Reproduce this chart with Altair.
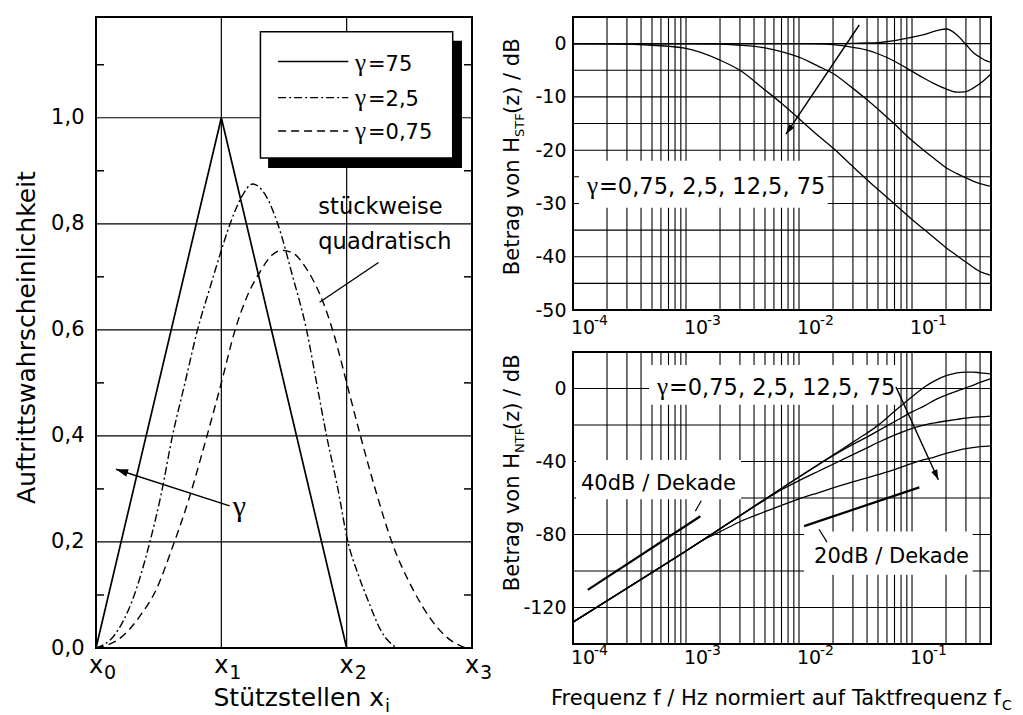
import altair as alt
import pandas as pd

SANS = "DejaVu Sans"
SERIF = "Liberation Serif"
INK = "black"

# ---------------- left panel values ----------------
tri_x = [0.0, 1.0, 2.0]
tri_y = [0.0, 1.0, 0.0]
dd_x = [0.0, 0.15, 0.29, 0.43, 0.52, 0.61, 0.71, 0.81, 0.91, 1.0, 1.07, 1.16, 1.25,
        1.35, 1.45, 1.57, 1.68, 1.76, 1.84, 1.93, 2.01, 2.09, 2.17, 2.28, 2.4]
dd_y = [0.0, 0.025, 0.09, 0.2, 0.29, 0.4, 0.5, 0.6, 0.68, 0.75, 0.8, 0.85, 0.875,
        0.855, 0.8, 0.7, 0.6, 0.5, 0.4, 0.3, 0.2, 0.14, 0.09, 0.03, 0.0]
da_x = [0.0, 0.2, 0.35, 0.48, 0.61, 0.74, 0.85, 1.0, 1.11, 1.2, 1.31, 1.4, 1.48,
        1.57, 1.68, 1.79, 1.9, 2.0, 2.11, 2.24, 2.36, 2.53, 2.67, 2.8, 2.95]
da_y = [0.0, 0.02, 0.06, 0.11, 0.19, 0.28, 0.37, 0.5, 0.6, 0.66, 0.71, 0.74, 0.75,
        0.745, 0.715, 0.665, 0.59, 0.5, 0.4, 0.29, 0.2, 0.11, 0.055, 0.02, 0.0]
stuetz_pos = [0, 1, 2, 3]
stuetz_sub = ["0", "1", "2", "3"]
prob_ticks = [0.0, 0.2, 0.4, 0.6, 0.8, 1.0]
prob_grid = [0.2, 0.4, 0.6, 0.8, 1.0]
prob_minor = [0.1, 0.3, 0.5, 0.7, 0.9, 1.1]
legend_gamma = ["=75", "=2,5", "=0,75"]

# ---------------- right panels values ----------------
stf_a_f = [1e-4, 1e-2, 2e-2, 3e-2, 4e-2, 5e-2, 7e-2, 0.1, 0.13, 0.16, 0.18, 0.2, 0.22, 0.25, 0.3, 0.35, 0.4, 0.45, 0.5]
stf_a_db = [0, 0, 0, 0.05, 0.12, 0.2, 0.55, 1.2, 1.75, 2.35, 2.65, 2.75, 2.5, 1.6, -0.15, -1.7, -2.55, -3.2, -3.5]
stf_b_f = [1e-4, 1e-2, 1.5e-2, 2e-2, 3e-2, 4e-2, 5e-2, 7e-2, 0.1, 0.13, 0.16, 0.2, 0.25, 0.3, 0.35, 0.4, 0.45, 0.5]
stf_b_db = [0, 0, -0.05, -0.2, -0.7, -1.2, -1.9, -3.3, -5.2, -6.6, -7.6, -8.5, -9.1, -9.0, -8.3, -7.5, -6.6, -5.7]
stf_c_f = [1e-4, 1e-3, 2e-3, 3e-3, 5e-3, 7e-3, 1e-2, 1.5e-2, 2e-2, 3e-2, 4e-2, 5e-2, 7e-2, 0.1, 0.13, 0.16, 0.2, 0.25, 0.3, 0.4, 0.5]
stf_c_db = [0, 0, -0.1, -0.3, -0.8, -1.5, -2.55, -4.3, -5.6, -8.4, -10.55, -12.3, -15.1, -18.2, -20.2, -21.7, -23.3, -24.4, -25.2, -26.3, -26.8]
stf_d_f = [1e-4, 2e-4, 5e-4, 1e-3, 2e-3, 3e-3, 5e-3, 7e-3, 1e-2, 1.5e-2, 2e-2, 3e-2, 5e-2, 7e-2, 0.1, 0.13, 0.16, 0.2, 0.25, 0.3, 0.4, 0.5]
stf_d_db = [0, -0.05, -0.3, -0.9, -3.1, -5.0, -8.7, -11.2, -14.1, -17.4, -19.6, -23.1, -27.4, -30.1, -33.0, -35.0, -36.6, -38.3, -39.8, -41.0, -42.8, -43.5]

ntf_a_f = [1e-4, 1e-3, 1e-2, 2e-2, 3e-2, 4e-2, 5e-2, 7e-2, 0.1, 0.13, 0.16, 0.2, 0.25, 0.3, 0.35, 0.4, 0.45, 0.5]
ntf_a_db = [-128, -89, -48.5, -36.5, -29.4, -24.4, -20.2, -12.5, -4.5, 1.0, 4.3, 7.0, 8.6, 9.0, 9.0, 8.6, 8.3, 8.0]
ntf_b_f = [1e-4, 1e-3, 1e-2, 1.5e-2, 2e-2, 3e-2, 4e-2, 5e-2, 7e-2, 0.1, 0.13, 0.16, 0.2, 0.25, 0.3, 0.35, 0.4, 0.45, 0.5]
ntf_b_db = [-128, -89, -48.5, -41.5, -36.8, -30.6, -26.6, -23.2, -18.2, -12.8, -9.4, -6.2, -3.6, -1.4, 0.4, 1.9, 3.3, 4.4, 5.4]
ntf_c_f = [1e-4, 1e-3, 5e-3, 7e-3, 1e-2, 1.5e-2, 2e-2, 3e-2, 4e-2, 5e-2, 7e-2, 0.1, 0.13, 0.16, 0.2, 0.25, 0.3, 0.4, 0.5]
ntf_c_db = [-128, -89, -61, -55.5, -50.5, -45.2, -41.5, -36.2, -32.5, -29.6, -25.6, -21.8, -19.9, -18.8, -17.8, -16.9, -16.2, -15.5, -15.1]
ntf_d_f = [1e-4, 1e-3, 1.5e-3, 2e-3, 3e-3, 5e-3, 7e-3, 1e-2, 1.5e-2, 2e-2, 3e-2, 4e-2, 5e-2, 7e-2, 0.1, 0.13, 0.16, 0.2, 0.25, 0.3, 0.4, 0.5]
ntf_d_db = [-128, -89, -82.2, -78.5, -73, -67.5, -64, -60.5, -57, -54.5, -51.2, -49, -47.2, -44.4, -41.0, -38.9, -37.4, -35.5, -34.0, -33.0, -31.9, -31.4]

slope40_f = [1.35e-4, 1.34e-3]
slope40_db = [-110.3, -70.0]
slope20_f = [0.0111, 0.116]
slope20_db = [-75.4, -54.2]

decades = [1e-4, 1e-3, 1e-2, 1e-1]
decade_exp = ["-4", "-3", "-2", "-1"]
stf_ticks = [0, -10, -20, -30, -40, -50]
stf_grid = [0, -5, -10, -15, -20, -25, -30, -35, -40, -45]
ntf_ticks = [0, -40, -80, -120]
ntf_grid = [0, -20, -40, -60, -80, -100, -120]
gamma_text = "=0,75, 2,5, 12,5, 75"

log_grid = [m * 10.0 ** e for e in (-4, -3, -2, -1) for m in range(1, 10) if m * 10.0 ** e < 0.5]

ARROW = "M0,0L-0.32,1L0.32,1Z"
ONE = pd.DataFrame({"k": [0]})

# =========================== LEFT PANEL ===========================
LW, LH = 376, 631
lxs = alt.Scale(domain=[0, 3], nice=False, zero=False)
lys = alt.Scale(domain=[0, 1.19], nice=False, zero=False)
L_YAXIS = alt.Axis(
    values=prob_ticks, grid=False, ticks=False, domain=False,
    labelExpr="replace(format(datum.value, '.1f'), '.', ',')",
    labelFont=SANS, labelFontSize=21, labelColor=INK, labelPadding=12,
    title="Auftrittswahrscheinlichkeit", titleFont=SANS, titleFontSize=25,
    titleFontWeight="normal", titleColor=INK, titleAngle=270, titleX=-62, titleY=320,
    titleBaseline="alphabetic", titleAlign="center")


def lx(f="x"):
    return alt.X(f"{f}:Q", scale=lxs, axis=None)


def ly(f="y"):
    return alt.Y(f"{f}:Q", scale=lys, axis=L_YAXIS)


lgrid_h = alt.Chart(pd.DataFrame({"y": prob_grid})).mark_rule(color=INK, strokeWidth=1.2).encode(y=ly())
lgrid_v = alt.Chart(pd.DataFrame({"x": [1, 2]})).mark_rule(color=INK, strokeWidth=1.2).encode(x=lx())
lminor_l = alt.Chart(pd.DataFrame({"y": prob_minor})).mark_rule(color=INK, strokeWidth=1.5).encode(
    x=alt.value(0), x2=alt.value(8), y=ly())
lminor_r = alt.Chart(pd.DataFrame({"y": prob_minor})).mark_rule(color=INK, strokeWidth=1.5).encode(
    x=alt.value(LW - 8), x2=alt.value(LW), y=ly())

c_tri = alt.Chart(pd.DataFrame({"x": tri_x, "y": tri_y})).mark_line(color=INK, strokeWidth=1.7).encode(x=lx(), y=ly())
c_dd = alt.Chart(pd.DataFrame({"x": dd_x, "y": dd_y})).mark_line(
    color=INK, strokeWidth=1.4, strokeDash=[8, 3, 2, 3], interpolate="monotone").encode(x=lx(), y=ly())
c_da = alt.Chart(pd.DataFrame({"x": da_x, "y": da_y})).mark_line(
    color=INK, strokeWidth=1.4, strokeDash=[8, 5], interpolate="monotone").encode(x=lx(), y=ly())

# legend box with shadow
leg_shadow = alt.Chart(pd.DataFrame({"x": [1.373], "x2": [2.92], "y": [0.905], "y2": [1.145]})).mark_rect(
    color=INK).encode(x=lx(), x2="x2", y=ly(), y2="y2")
leg_box = alt.Chart(pd.DataFrame({"x": [1.312], "x2": [2.846], "y": [0.924], "y2": [1.162]})).mark_rect(
    fill="white", stroke=INK, strokeWidth=1.5).encode(x=lx(), x2="x2", y=ly(), y2="y2")
leg_l1 = alt.Chart(pd.DataFrame({"x": [1.453], "x2": [2.013], "y": [1.106]})).mark_rule(
    color=INK, strokeWidth=1.6).encode(x=lx(), x2="x2", y=ly())
leg_l2 = alt.Chart(pd.DataFrame({"x": [1.453], "x2": [2.013], "y": [1.038]})).mark_rule(
    color=INK, strokeWidth=1.4, strokeDash=[8, 3, 2, 3]).encode(x=lx(), x2="x2", y=ly())
leg_l3 = alt.Chart(pd.DataFrame({"x": [1.453], "x2": [2.013], "y": [0.975]})).mark_rule(
    color=INK, strokeWidth=1.4, strokeDash=[8, 5]).encode(x=lx(), x2="x2", y=ly())
leg_df = pd.DataFrame({"x": [2.066] * 3, "y": [1.089, 1.023, 0.960], "t": legend_gamma})
leg_g = alt.Chart(leg_df).mark_text(text="γ", font=SERIF, fontSize=25, align="left", baseline="alphabetic",
                                    color=INK).encode(x=lx(), y=ly())
leg_t = alt.Chart(leg_df).mark_text(font=SANS, fontSize=21, align="left", baseline="alphabetic", dx=13,
                                    color=INK).encode(x=lx(), y=ly(), text="t:N")

# annotations
ann_sq = alt.Chart(pd.DataFrame({"x": [1.774, 1.774], "y": [0.818, 0.752], "t": ["stückweise", "quadratisch"]})).mark_text(
    font=SANS, fontSize=22.5, align="left", baseline="alphabetic", color=INK).encode(x=lx(), y=ly(), text="t:N")
lead_sq = alt.Chart(pd.DataFrame({"x": [2.254], "x2": [1.784], "y": [0.727], "y2": [0.652]})).mark_rule(
    color=INK, strokeWidth=1.4).encode(x=lx(), x2="x2", y=ly(), y2="y2")
arr_l = alt.Chart(pd.DataFrame({"x": [1.066], "x2": [0.16], "y": [0.268], "y2": [0.337]})).mark_rule(
    color=INK, strokeWidth=1.5).encode(x=lx(), x2="x2", y=ly(), y2="y2")
arr_lh = alt.Chart(pd.DataFrame({"x": [0.16], "y": [0.337]})).mark_point(
    shape=ARROW, size=576, filled=True, color=INK, opacity=1, angle=288).encode(x=lx(), y=ly())
gam_l = alt.Chart(pd.DataFrame({"x": [1.144], "y": [0.265]})).mark_text(
    text="γ", font=SERIF, fontSize=30, align="center", baseline="middle", color=INK).encode(x=lx(), y=ly())

# x tick labels x_i and axis title
xl_df = pd.DataFrame({"x": stuetz_pos, "s": stuetz_sub})
xl_main = alt.Chart(xl_df).mark_text(text="x", font=SANS, fontSize=24, align="center", baseline="alphabetic",
                                     color=INK).encode(x=lx(), y=alt.value(656))
xl_sub = alt.Chart(xl_df).mark_text(font=SANS, fontSize=19, align="left", baseline="alphabetic", dx=8,
                                    color=INK).encode(x=lx(), y=alt.value(662), text="s:N")
xt_main = alt.Chart(ONE).mark_text(text="Stützstellen x", font=SANS, fontSize=25, align="right",
                                   baseline="alphabetic", color=INK).encode(x=alt.value(288), y=alt.value(689))
xt_sub = alt.Chart(ONE).mark_text(text="i", font=SANS, fontSize=18, align="left",
                                  baseline="alphabetic", color=INK).encode(x=alt.value(289), y=alt.value(695))

left = alt.layer(
    lgrid_h, lgrid_v, lminor_l, lminor_r,
    c_tri, c_dd, c_da,
    lead_sq, arr_l, arr_lh, gam_l, ann_sq,
    leg_shadow, leg_box, leg_l1, leg_l2, leg_l3, leg_g, leg_t,
    xl_main, xl_sub, xt_main, xt_sub,
).properties(width=LW, height=LH)

# =========================== RIGHT PANELS ===========================
RW, RH1, RH2 = 418, 293, 292
rxs = alt.Scale(type="log", domain=[1e-4, 0.5], nice=False)


def rx(f="f"):
    return alt.X(f"{f}:Q", scale=rxs, axis=None)


def curves_df(pairs):
    rows = []
    for name, fs, dbs in pairs:
        for f, d in zip(fs, dbs):
            rows.append({"f": f, "db": d, "c": name})
    return pd.DataFrame(rows)


def make_ry(ys, ticks):
    ax = alt.Axis(values=ticks, grid=False, ticks=False, domain=False,
                  labelExpr="'' + datum.value", labelFont=SANS, labelFontSize=19, labelColor=INK,
                  labelPadding=7, title=None)

    def ry(f="db"):
        return alt.Y(f"{f}:Q", scale=ys, axis=ax)
    return ry


def panel(ry, grid, curves, sub, title_p, label_y):
    gh = alt.Chart(pd.DataFrame({"db": grid})).mark_rule(color=INK, strokeWidth=1.1).encode(y=ry())
    gv = alt.Chart(pd.DataFrame({"f": log_grid})).mark_rule(color=INK, strokeWidth=1.1).encode(x=rx())
    lines = alt.Chart(curves).mark_line(color=INK, strokeWidth=1.3, interpolate="monotone").encode(
        x=rx(), y=ry(), detail="c:N")
    dec = pd.DataFrame({"f": decades, "e": decade_exp})
    lab10 = alt.Chart(dec).mark_text(text="10", font=SANS, fontSize=19, align="left", baseline="alphabetic",
                                     dx=-2, color=INK).encode(x=rx(), y=alt.value(label_y))
    labexp = alt.Chart(dec).mark_text(font=SANS, fontSize=14, align="left", baseline="alphabetic",
                                      dx=21, color=INK).encode(x=rx(), y=alt.value(label_y - 9), text="e:N")
    t1 = alt.Chart(ONE).mark_text(text="Betrag von H", font=SANS, fontSize=21, angle=270, align="right",
                                  baseline="alphabetic", color=INK).encode(x=alt.value(-54), y=alt.value(title_p))
    t2 = alt.Chart(ONE).mark_text(text=sub, font=SANS, fontSize=13, angle=270, align="left",
                                  baseline="alphabetic", color=INK).encode(x=alt.value(-49), y=alt.value(title_p))
    t3 = alt.Chart(ONE).mark_text(text="(z) / dB", font=SANS, fontSize=21, angle=270, align="left",
                                  baseline="alphabetic", color=INK).encode(x=alt.value(-54), y=alt.value(title_p - 23))
    return [gh, gv, lines], [lab10, labexp, t1, t2, t3]


# ---- top: STF ----
ys1 = alt.Scale(domain=[-50, 5], nice=False, zero=False)
ry1 = make_ry(ys1, stf_ticks)
stf = curves_df([("a", stf_a_f, stf_a_db), ("b", stf_b_f, stf_b_db),
                 ("c", stf_c_f, stf_c_db), ("d", stf_d_f, stf_d_db)])
top_base, top_text = panel(ry1, stf_grid, stf, "STF", 120, 317)
top_box = alt.Chart(pd.DataFrame({"f": [1.13e-4], "f2": [0.01795], "db": [-30.8], "db2": [-22.0]})).mark_rect(
    fill="white").encode(x=rx(), x2="f2", y=ry1(), y2="db2")
top_g = alt.Chart(pd.DataFrame({"f": [1.33e-4], "db": [-28.25]})).mark_text(
    text="γ", font=SERIF, fontSize=25, align="left", baseline="alphabetic", color=INK).encode(x=rx(), y=ry1())
top_t = alt.Chart(pd.DataFrame({"f": [1.33e-4], "db": [-28.25]})).mark_text(
    text=gamma_text, font=SANS, fontSize=22.5, align="left", baseline="alphabetic", dx=12, color=INK).encode(x=rx(), y=ry1())
top_arr = alt.Chart(pd.DataFrame({"f": [0.0341], "f2": [0.00767], "db": [3.5], "db2": [-17.0]})).mark_rule(
    color=INK, strokeWidth=1.4).encode(x=rx(), x2="f2", y=ry1(), y2="db2")
top_head = alt.Chart(pd.DataFrame({"f": [0.00767], "db": [-17.0]})).mark_point(
    shape=ARROW, size=400, filled=True, color=INK, opacity=1, angle=214).encode(x=rx(), y=ry1())
top = alt.layer(*top_base, top_box, top_g, top_t, top_arr, top_head, *top_text).properties(
    width=RW, height=RH1)

# ---- bottom: NTF ----
ys2 = alt.Scale(domain=[-140, 20], nice=False, zero=False)
ry2 = make_ry(ys2, ntf_ticks)
ntf = curves_df([("a", ntf_a_f, ntf_a_db), ("b", ntf_b_f, ntf_b_db),
                 ("c", ntf_c_f, ntf_c_db), ("d", ntf_d_f, ntf_d_db)])
bot_base, bot_text = panel(ry2, ntf_grid, ntf, "NTF", 101, 312)
s40 = alt.Chart(pd.DataFrame({"f": slope40_f, "db": slope40_db})).mark_line(color=INK, strokeWidth=2.2).encode(
    x=rx(), y=ry2())
s20 = alt.Chart(pd.DataFrame({"f": slope20_f, "db": slope20_db})).mark_line(color=INK, strokeWidth=2.2).encode(
    x=rx(), y=ry2())
boxes = alt.Chart(pd.DataFrame({
    "f": [4.71e-4, 1.064e-4, 0.01107], "f2": [0.0746, 3.07e-3, 0.344],
    "db": [-8.9, -60.7, -102.0], "db2": [12.9, -39.2, -78.3]})).mark_rect(fill="white").encode(
    x=rx(), x2="f2", y=ry2(), y2="db2")
bot_g = alt.Chart(pd.DataFrame({"f": [5.53e-4], "db": [-3.65]})).mark_text(
    text="γ", font=SERIF, fontSize=25, align="left", baseline="alphabetic", color=INK).encode(x=rx(), y=ry2())
bot_t = alt.Chart(pd.DataFrame({"f": [5.53e-4], "db": [-3.65]})).mark_text(
    text=gamma_text, font=SANS, fontSize=22.5, align="left", baseline="alphabetic", dx=12, color=INK).encode(x=rx(), y=ry2())
dek = alt.Chart(pd.DataFrame({"f": [1.177e-4, 0.0136], "db": [-55.4, -95.4],
                              "t": ["40dB / Dekade", "20dB / Dekade"]})).mark_text(
    font=SANS, fontSize=21, align="left", baseline="alphabetic", color=INK).encode(x=rx(), y=ry2(), text="t:N")
leads = alt.Chart(pd.DataFrame({"f": [1.365e-3, 0.01503], "f2": [1.21e-3, 0.0177],
                                "db": [-61.5, -77.1], "db2": [-67.2, -84.2]})).mark_rule(
    color=INK, strokeWidth=1.2).encode(x=rx(), x2="f2", y=ry2(), y2="db2")
bot_arr = alt.Chart(pd.DataFrame({"f": [0.0721], "f2": [0.171], "db": [0.87], "db2": [-50.0]})).mark_rule(
    color=INK, strokeWidth=1.4).encode(x=rx(), x2="f2", y=ry2(), y2="db2")
bot_head = alt.Chart(pd.DataFrame({"f": [0.171], "db": [-50.0]})).mark_point(
    shape=ARROW, size=400, filled=True, color=INK, opacity=1, angle=156).encode(x=rx(), y=ry2())
fx_main = alt.Chart(ONE).mark_text(text="Frequenz f / Hz normiert auf Taktfrequenz f", font=SANS, fontSize=21,
                                   align="right", baseline="alphabetic", color=INK).encode(
    x=alt.value(428), y=alt.value(353))
fx_sub = alt.Chart(ONE).mark_text(text="C", font=SANS, fontSize=14, align="left", baseline="alphabetic",
                                  color=INK).encode(x=alt.value(429), y=alt.value(358))
bottom = alt.layer(*bot_base, s40, s20, boxes, bot_g, bot_t, dek, leads, bot_arr, bot_head,
                   *bot_text, fx_main, fx_sub).properties(width=RW, height=RH2)

right = alt.vconcat(top, bottom, spacing=42, bounds="flush")
chart = alt.hconcat(left, right, spacing=101, bounds="flush").properties(
    padding={"left": 13, "top": 15, "right": 5, "bottom": 0}
).configure_view(stroke=INK, strokeWidth=2)

chart.save("out.html", embed_options={"renderer": "svg", "actions": False})
